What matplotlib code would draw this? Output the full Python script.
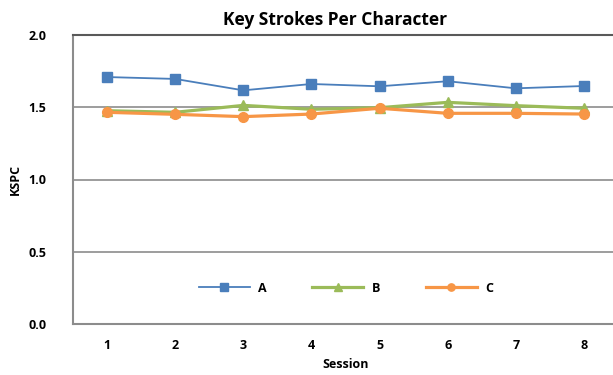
import matplotlib
matplotlib.use("Agg")
import matplotlib.pyplot as plt
from matplotlib.ticker import FormatStrFormatter

sessions = [1, 2, 3, 4, 5, 6, 7, 8]
series_a = [1.709, 1.696, 1.617, 1.661, 1.645, 1.680, 1.631, 1.647]
series_b = [1.476, 1.465, 1.513, 1.486, 1.497, 1.534, 1.511, 1.493]
series_c = [1.465, 1.451, 1.435, 1.453, 1.493, 1.458, 1.458, 1.453]
yticks = [0.0, 0.5, 1.0, 1.5, 2.0]

plt.rcParams['font.family'] = ['Open Sans', 'DejaVu Sans']

W, H = 613, 375
fig = plt.figure(figsize=(W / 100, H / 100), dpi=100)
left, right, top, bottom = 73, 618, 35, 324
ax = fig.add_axes([left / W, 1 - bottom / H, (right - left) / W, (bottom - top) / H])

ax.plot(sessions, series_a, color='#4a7ebb', lw=1.3, marker='s', ms=7, label='A', zorder=3)
ax.plot(sessions, series_b, color='#9bbb59', lw=2.3, marker='^', ms=7, label='B', zorder=3)
ax.plot(sessions, series_c, color='#f79646', lw=2.3, marker='o', ms=7, label='C', zorder=3)

ax.set_xlim(0.5, 8.5)
ax.set_ylim(0, 2.0)
ax.set_yticks(yticks)
ax.set_xticks(sessions)
ax.yaxis.set_major_formatter(FormatStrFormatter('%.1f'))
ax.grid(axis='y', color='#8c8c8c', lw=1.2, zorder=1)
ax.spines['right'].set_visible(False)
ax.spines['top'].set_color('#595959')
ax.spines['top'].set_linewidth(1.5)
ax.spines['left'].set_color('#8c8c8c')
ax.spines['bottom'].set_color('#8c8c8c')
ax.spines['left'].set_linewidth(1.5)
ax.spines['bottom'].set_linewidth(1.5)
ax.tick_params(length=0, labelsize=9)
for lbl in ax.get_xticklabels() + ax.get_yticklabels():
    lbl.set_fontweight('bold')
ax.tick_params(axis='y', pad=19)
ax.tick_params(axis='x', pad=11)

ax.set_xlabel('Session', fontsize=9, fontweight='bold', labelpad=4)
ax.set_ylabel('KSPC', fontsize=9, fontweight='bold', labelpad=5)
fig.text(335 / W, 1 - 20 / H, 'Key Strokes Per Character', ha='center', va='center',
         fontsize=12.5, fontweight='bold')

leg = ax.legend(loc='center', bbox_to_anchor=((346 - left) / (right - left), (324 - 288) / (bottom - top)),
                ncol=3, frameon=False, handlelength=4.1, handletextpad=0.7, columnspacing=3.6,
                markerscale=0.75, prop={'weight': 'bold', 'size': 9})

fig.savefig('out.png', dpi=100)
